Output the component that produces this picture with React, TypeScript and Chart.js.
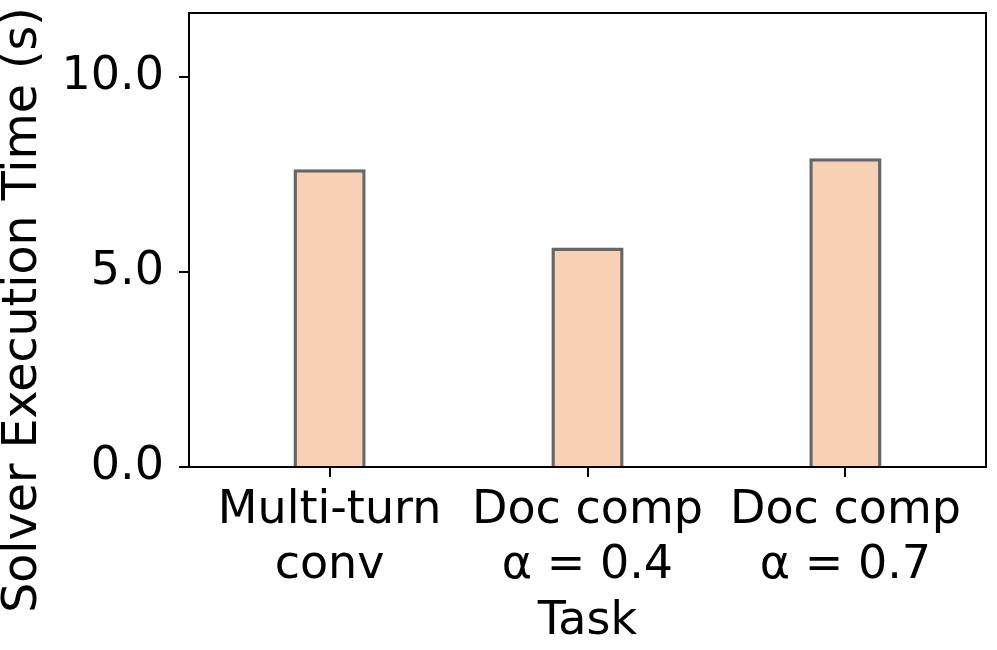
import React, { useEffect, useRef } from "react";
import { Chart, registerables } from "chart.js";

Chart.register(...registerables);

const categories: string[][] = [
  ["Multi-turn", "conv"],
  ["Doc comp", "α = 0.4"],
  ["Doc comp", "α = 0.7"],
];
const executionTimes: number[] = [7.64, 5.63, 7.92];
const yTicks: number[] = [0, 5, 10];
const yMax = 11.65;
const xTitle = "Task";
const yTitle = "Solver Execution Time (s)";

const FONT = "'DejaVu Sans', 'Liberation Sans', sans-serif";
const FS = 46;

const framePlugin = {
  id: "frame",
  afterDraw(chart: any) {
    const { ctx, chartArea } = chart;
    ctx.save();
    ctx.strokeStyle = "#000";
    ctx.lineWidth = 2;
    ctx.strokeRect(chartArea.left, chartArea.top, chartArea.right - chartArea.left, chartArea.bottom - chartArea.top);
    ctx.restore();
  },
};

const yTitlePlugin = {
  id: "yTitle",
  afterDraw(chart: any) {
    const { ctx } = chart;
    ctx.save();
    ctx.translate(24, chart.height / 2 - 15);
    ctx.rotate(-Math.PI / 2);
    ctx.font = `${FS + 1.5}px ${FONT}`;
    ctx.fillStyle = "#000";
    ctx.textAlign = "center";
    ctx.textBaseline = "middle";
    ctx.fillText(yTitle, 0, 0);
    ctx.restore();
  },
};

export default function App() {
  const ref = useRef<HTMLCanvasElement | null>(null);

  useEffect(() => {
    if (!ref.current) return;
    const chart = new Chart(ref.current, {
      type: "bar",
      data: {
        datasets: [
          {
            data: executionTimes.map((v, i) => ({ x: i, y: v })),
            backgroundColor: "#F8D0B5",
            borderColor: "#666666",
            borderWidth: 3.5,
            barPercentage: 0.28,
            categoryPercentage: 1,
          },
        ],
      },
      options: {
        responsive: false,
        animation: false,
        layout: { padding: { top: 13, right: 11, left: 0, bottom: 0 } },
        plugins: { legend: { display: false }, tooltip: { enabled: false } },
        scales: {
          x: {
            type: "linear",
            offset: false,
            min: -0.545,
            max: categories.length - 1 + 0.545,
            afterBuildTicks: (s: any) => {
              s.ticks = categories.map((_, i) => ({ value: i }));
            },
            afterFit: (s: any) => {
              s.height = 183;
              s.paddingLeft = 0;
              s.paddingRight = 0;
            },
            ticks: {
              callback: (v: any) => categories[Math.round(Number(v))] ?? "",
              color: "#000",
              font: { family: FONT, size: FS, lineHeight: 1.2 },
              padding: 6,
              maxRotation: 0,
              autoSkip: false,
            },
            grid: {
              offset: false,
              drawOnChartArea: false,
              drawTicks: true,
              tickLength: 10,
              color: "#000",
              lineWidth: 2,
            },
            border: { display: true, color: "#000", width: 2 },
            title: {
              display: true,
              text: xTitle,
              color: "#000",
              font: { family: FONT, size: FS, lineHeight: 1.2 },
              padding: { top: 0, bottom: 0 },
            },
          },
          y: {
            type: "linear",
            min: 0,
            max: yMax,
            afterBuildTicks: (s: any) => {
              s.ticks = yTicks.map((v) => ({ value: v }));
            },
            afterFit: (s: any) => {
              s.width = 189;
              s.paddingTop = 0;
              s.paddingBottom = 0;
            },
            ticks: {
              callback: (v: any) => Number(v).toFixed(1),
              color: "#000",
              font: { family: FONT, size: FS },
              padding: 15,
            },
            grid: {
              drawOnChartArea: false,
              drawTicks: true,
              tickLength: 10,
              color: "#000",
              lineWidth: 2,
            },
            border: { display: true, color: "#000", width: 2 },
          },
        },
      },
      plugins: [framePlugin, yTitlePlugin],
    });
    return () => chart.destroy();
  }, []);

  return (
    <div style={{ position: "fixed", left: 0, top: 0, width: 997, height: 650, background: "#fff" }}>
      <canvas ref={ref} width={997} height={650} style={{ display: "block" }} />
    </div>
  );
}
